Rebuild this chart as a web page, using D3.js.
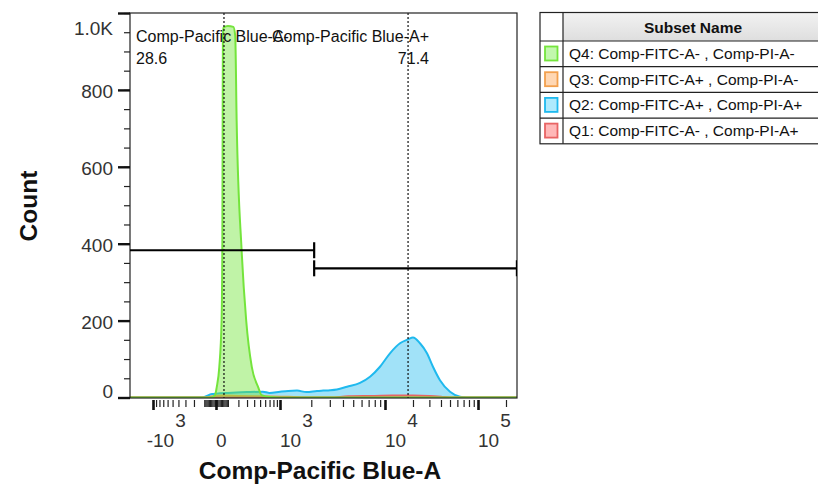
<!DOCTYPE html>
<html><head><meta charset="utf-8">
<script src="https://cdn.jsdelivr.net/npm/d3@7"></script>
<style>
html,body{margin:0;padding:0;background:#fff;}
svg{display:block;font-family:"Liberation Sans",Arial,sans-serif;}
</style></head><body>
<svg id="chart" width="818" height="489"></svg>
<script>
// Histogram outlines: channel value and event count for each subset
const q4Values = [-2175, -40, -8, 6, 27, 46, 52, 55, 57, 62, 100, 150, 168, 182, 235, 289, 365, 465, 528, 715, 1000, 262144];
const q4Counts = [0, 0, 6, 27, 79, 201, 383, 720, 940, 962, 966, 964, 940, 721, 383, 201, 79, 27, 6, 1, 0, 0];

const q3Values = [-2175, -100, -30, 50, 200, 600, 1200, 1600, 262144];
const q3Counts = [0, 0, 3, 5, 4, 3, 2, 0, 0];

const q2Values = [-2175, -121, -33, 0, 100, 300, 553, 700, 1000, 1200, 1461, 1800, 2267, 2600, 3014, 3500, 4370, 5800, 7213, 8966, 11313, 14495, 17666, 20000, 23780, 28270, 32800, 39000, 50000, 64000, 76100, 262144];
const q2Counts = [0, 0, 9, 10, 12, 14, 15, 12, 15, 17, 18, 14, 17, 18, 19, 21, 28, 38, 54, 80, 115, 141, 151, 156, 141, 115, 80, 45, 15, 2, 0, 0];

const q1Values = [-2175, 3000, 4500, 8000, 12000, 20000, 30000, 40000, 50000, 262144];
const q1Counts = [0, 0, 3, 4, 5, 5, 4, 2, 0, 0];

// Subsets, listed in legend order
const subsetNames = ["Q4: Comp-FITC-A- , Comp-PI-A-", "Q3: Comp-FITC-A+ , Comp-PI-A-", "Q2: Comp-FITC-A+ , Comp-PI-A+", "Q1: Comp-FITC-A- , Comp-PI-A+"];
const subsetStroke = ["#74e43c", "#f2a04e", "#1fb9ee", "#e86464"];
const subsetSwatch = ["#c2f7ad", "#ffd7b3", "#aeeafd", "#ffb8b8"];

// Range gates on Comp-Pacific Blue-A
const gateNames = ["Comp-Pacific Blue-A-", "Comp-Pacific Blue-A+"];
const gateFreqs = ["28.6", "71.4"];
const gateLow = [-5000, 2130];
const gateHigh = [2130, 262144];
const gateLevel = [383, 336];
const gateMedians = [66, 17700];

// Axes
const yTickValues = [0, 200, 400, 600, 800, 1000];
const yTickLabels = ["0", "200", "400", "600", "800", "1.0K"];
const xMajorValues = [-1000, 0, 1000, 10000, 100000];
const xTickBase = ["-10", "0", "10", "10", "10"];
const xTickExp = ["3", "", "3", "4", "5"];
const xMinorValues = [-900, -800, -700, -600, -500, -400, -300, -200, -100,
  -90, -80, -70, -60, -50, -40, -30, -20, -10, 10, 20, 30, 40, 50, 60, 70, 80, 90,
  100, 200, 300, 400, 500, 600, 700, 800, 900,
  2000, 3000, 4000, 5000, 6000, 7000, 8000, 9000,
  20000, 30000, 40000, 50000, 60000, 70000, 80000, 90000, 200000];

const svg = d3.select("#chart");
const plot = {left: 130, top: 13, right: 517, bottom: 398};

// Biexponential-style display: arcsinh transform, then a piecewise linear layout of decades
const T = v => Math.asinh(v / 250) / Math.LN10;
const xT = d3.scaleLinear().domain(xMajorValues.map(T)).range([153, 216, 280, 385, 478]);
const x = v => xT(T(v));
const y = d3.scaleLinear().domain([0, 1000]).range([397.5, plot.top]);

const defs = svg.append("defs");
defs.append("clipPath").attr("id", "plotClip")
  .append("rect").attr("x", plot.left).attr("y", plot.top)
  .attr("width", plot.right - plot.left).attr("height", plot.bottom - plot.top);

const series = [
  {v: q4Values, c: q4Counts},
  {v: q3Values, c: q3Counts},
  {v: q2Values, c: q2Counts},
  {v: q1Values, c: q1Counts}
].map(s => s.v.map((v, k) => ({v, c: s.c[k]})));

const area = d3.area().x(d => x(d.v)).y0(y(0)).y1(d => y(d.c)).curve(d3.curveMonotoneX);
const line = d3.line().x(d => x(d.v)).y(d => y(d.c)).curve(d3.curveMonotoneX);

const gHist = svg.append("g").attr("clip-path", "url(#plotClip)");
// drawing order: Q2, Q3, Q1, then Q4 on top
[2, 1, 3, 0].forEach(idx => {
  const pts = series[idx];
  gHist.append("path").attr("d", area(pts))
    .attr("fill", subsetStroke[idx]).attr("fill-opacity", idx === 2 ? 0.42 : 0.45);
  gHist.append("path").attr("d", line(pts))
    .attr("fill", "none").attr("stroke", subsetStroke[idx]).attr("stroke-width", 2);
});

// median markers
gHist.selectAll("line.median").data(gateMedians).join("line")
  .attr("class", "median")
  .attr("x1", d => x(d)).attr("x2", d => x(d))
  .attr("y1", plot.top).attr("y2", plot.bottom)
  .attr("stroke", "#111").attr("stroke-width", 1.2).attr("stroke-dasharray", "2,2");

// plot frame
svg.append("rect").attr("x", plot.left).attr("y", plot.top)
  .attr("width", plot.right - plot.left).attr("height", plot.bottom - plot.top)
  .attr("fill", "none").attr("stroke", "#222").attr("stroke-width", 1.2);

// range gates
const gGate = svg.append("g").attr("clip-path", "url(#plotClip)");
gateNames.forEach((n, i) => {
  const gy = y(gateLevel[i]);
  gGate.append("line").attr("x1", x(gateLow[i])).attr("x2", x(gateHigh[i]))
    .attr("y1", gy).attr("y2", gy).attr("stroke", "#000").attr("stroke-width", 2.2);
  [gateLow[i], gateHigh[i]].forEach(b => {
    gGate.append("line").attr("x1", x(b)).attr("x2", x(b))
      .attr("y1", gy - 8).attr("y2", gy + 8).attr("stroke", "#000").attr("stroke-width", 2.2);
  });
});

// gate labels
const labelFont = 16;
const gl = svg.append("g").attr("font-size", labelFont).attr("fill", "#111");
gl.append("text").attr("x", 136).attr("y", 42).text(gateNames[0]);
gl.append("text").attr("x", 136).attr("y", 64).text(gateFreqs[0]);
gl.append("text").attr("x", 429).attr("y", 42).attr("text-anchor", "end").text(gateNames[1]);
gl.append("text").attr("x", 429).attr("y", 64).attr("text-anchor", "end").text(gateFreqs[1]);

// Y axis
const yMinor = svg.append("g").attr("transform", `translate(${plot.left},0)`)
  .call(d3.axisLeft(y).tickValues(d3.range(0, 1001, 50)).tickSize(6).tickFormat(""));
const yMajor = svg.append("g").attr("transform", `translate(${plot.left},0)`)
  .call(d3.axisLeft(y).tickValues(yTickValues).tickSize(12).tickFormat(""));
[yMinor, yMajor].forEach(g => g.select(".domain").remove());
yMinor.selectAll(".tick line").attr("stroke", "#222").attr("stroke-width", 1.2);
yMajor.selectAll(".tick line").attr("stroke", "#111").attr("stroke-width", 2.4);

// end labels are pulled inward so they stay within the axis extent
const lastY = yTickValues.length - 1;
svg.append("g").selectAll("text").data(yTickValues).join("text")
  .attr("x", 113)
  .attr("y", (d, i) => y(d) + 8 + (i === 0 ? -8 : 0) + (i === lastY ? 14 : 0))
  .attr("text-anchor", "end").attr("font-size", 19).attr("fill", "#333")
  .text((d, i) => yTickLabels[i]);

// X axis
const xMinor = svg.append("g").attr("transform", "translate(0,400)")
  .call(d3.axisBottom(xT).tickValues(xMinorValues.map(T)).tickSize(7).tickFormat(""));
const xMajor = svg.append("g").attr("transform", "translate(0,400)")
  .call(d3.axisBottom(xT).tickValues(xMajorValues.map(T)).tickSize(10).tickFormat(""));
[xMinor, xMajor].forEach(g => g.select(".domain").remove());
xMinor.selectAll(".tick line").attr("stroke", "#222").attr("stroke-width", 1.2);
xMajor.selectAll(".tick line").attr("stroke", "#111").attr("stroke-width", 2.6);

const xl = svg.append("g").attr("font-size", 19).attr("fill", "#333");
xMajorValues.forEach((v, i) => {
  const px = x(v);
  const base = xTickBase[i];
  if (base.startsWith("-")) {
    xl.append("text").attr("x", px).attr("y", 447).attr("text-anchor", "end").text("-");
  }
  const t = xl.append("text").attr("x", px).attr("y", 447).text(base.replace("-", ""));
  if (xTickExp[i]) {
    t.append("tspan").attr("dy", -20).attr("dx", 1).text(xTickExp[i]);
  }
});

// axis titles
svg.append("text").attr("x", 320).attr("y", 479).attr("text-anchor", "middle")
  .attr("font-size", 24.5).attr("font-weight", "bold").attr("fill", "#111").text("Comp-Pacific Blue-A");
svg.append("text").attr("transform", "translate(37,206) rotate(-90)").attr("text-anchor", "middle")
  .attr("font-size", 24.5).attr("font-weight", "bold").attr("fill", "#111").text("Count");

// Legend table
const lg = {left: 540, divider: 563, right: 823, top: 12.5, head: 41, row: 25.7};
const legend = svg.append("g");
const grad = defs.append("linearGradient").attr("id", "headGrad").attr("x1", 0).attr("x2", 0).attr("y1", 0).attr("y2", 1);
grad.append("stop").attr("offset", 0).attr("stop-color", "#f2f2f2");
grad.append("stop").attr("offset", 1).attr("stop-color", "#dedede");
legend.append("rect").attr("x", lg.divider).attr("y", lg.top).attr("width", lg.right - lg.divider).attr("height", lg.head - lg.top).attr("fill", "url(#headGrad)");
legend.append("text").attr("x", (lg.divider + lg.right) / 2).attr("y", lg.top + 20).attr("text-anchor", "middle")
  .attr("font-size", 15.5).attr("font-weight", "bold").attr("fill", "#111").text("Subset Name");
const rows = legend.selectAll("g.row").data(subsetNames).join("g").attr("class", "row")
  .attr("transform", (d, i) => `translate(0,${lg.head + i * lg.row})`);
rows.append("rect").attr("x", 545).attr("y", 5.5).attr("width", 12.5).attr("height", 14)
  .attr("fill", (d, i) => subsetSwatch[i]).attr("stroke", (d, i) => subsetStroke[i]).attr("stroke-width", 1.8);
rows.append("text").attr("x", 569).attr("y", 18).attr("font-size", 15.5).attr("fill", "#111").text(d => d);
// table grid
const tableBottom = lg.head + subsetNames.length * lg.row;
legend.append("rect").attr("x", lg.left).attr("y", lg.top).attr("width", lg.right - lg.left).attr("height", tableBottom - lg.top)
  .attr("fill", "none").attr("stroke", "#222").attr("stroke-width", 1.2);
legend.append("line").attr("x1", lg.divider).attr("x2", lg.divider).attr("y1", lg.top).attr("y2", tableBottom).attr("stroke", "#222").attr("stroke-width", 1.2);
d3.range(subsetNames.length).forEach(i => {
  const yy = lg.head + i * lg.row;
  legend.append("line").attr("x1", lg.left).attr("x2", lg.right).attr("y1", yy).attr("y2", yy).attr("stroke", "#222").attr("stroke-width", 1.2);
});
</script>
</body></html>
